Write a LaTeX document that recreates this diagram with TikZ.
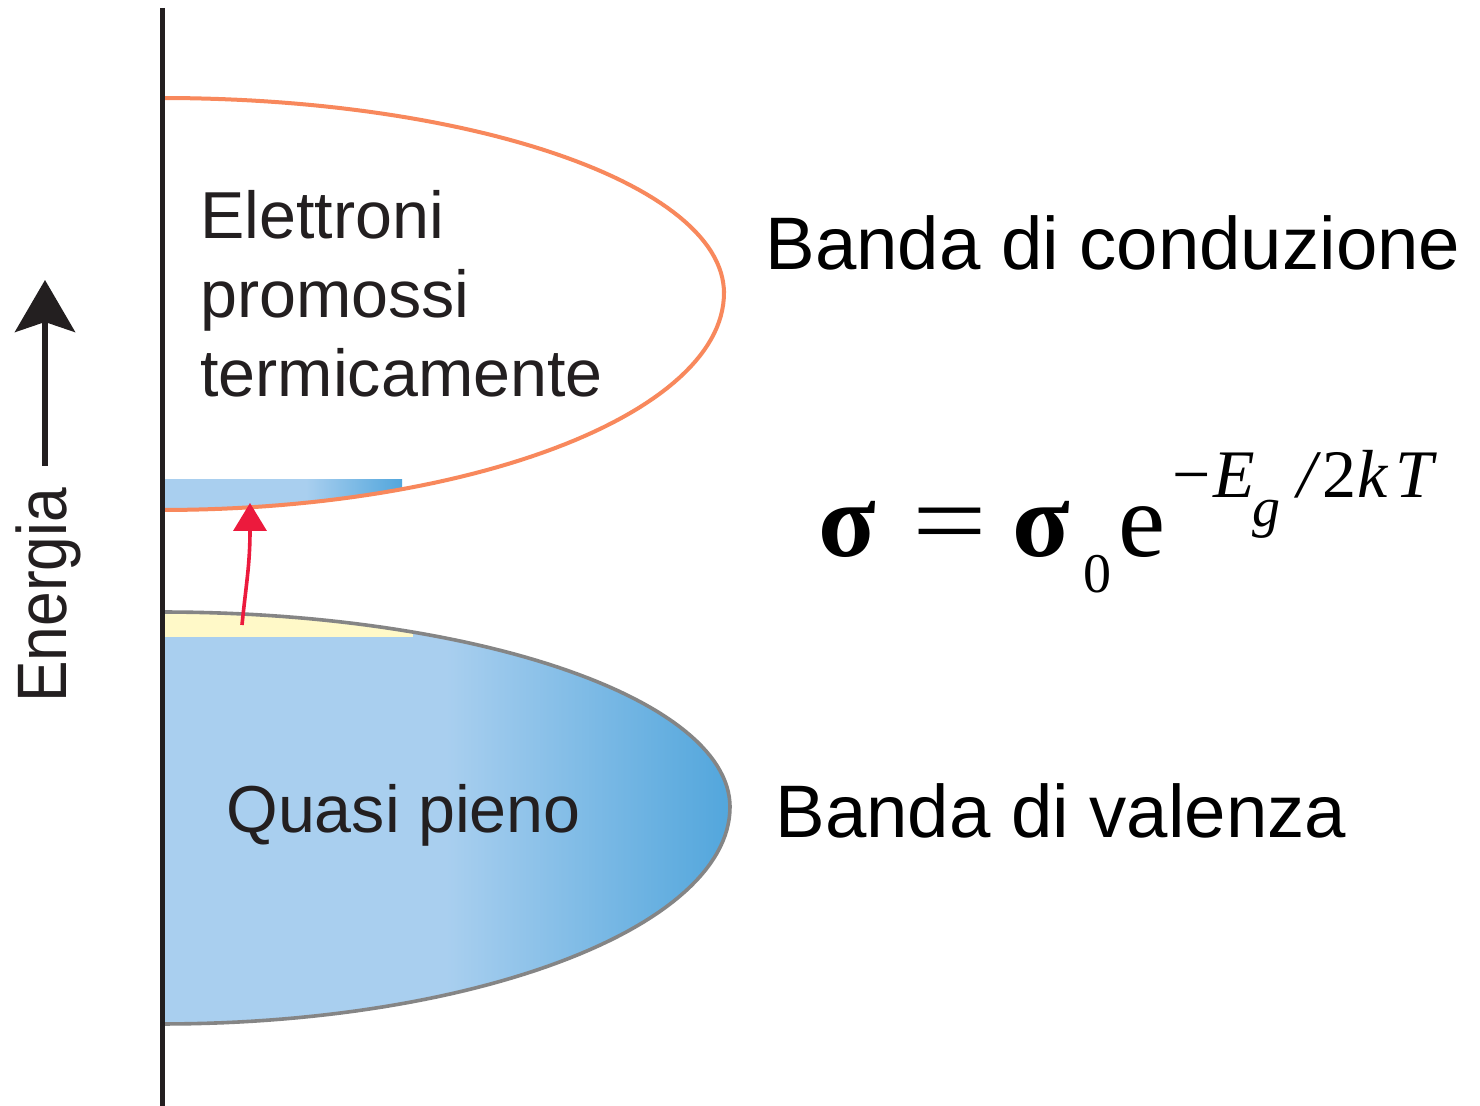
\documentclass[tikz,border=0pt]{standalone}
\usepackage{fontspec}
\setmainfont{Liberation Sans}
\newfontfamily\tms{Liberation Serif}
\usetikzlibrary{arrows.meta}
\definecolor{lb}{HTML}{A9CFEF}
\definecolor{db}{HTML}{52A6DC}
\definecolor{yel}{HTML}{FFF9C8}
\definecolor{orng}{HTML}{F8885C}
\definecolor{gry}{HTML}{858585}
\definecolor{redc}{HTML}{EC1A3D}
\definecolor{axc}{HTML}{231F20}
\pgfdeclarehorizontalshading{valshade}{100bp}{color(0bp)=(lb); color(25bp)=(lb); color(50bp)=(lb); color(75bp)=(db); color(100bp)=(db)}
\pgfdeclarehorizontalshading{stripshade}{100bp}{color(0bp)=(lb); color(25bp)=(lb); color(55bp)=(lb); color(75bp)=(db); color(100bp)=(db)}
\newcommand{\bandcurve}[4]{plot[domain=-90:0,samples=60] ({162+#2*cos(\x)},{#1+#3*sin(\x)}) -- plot[domain=0:90,samples=60] ({162+#2*cos(\x)},{#1+#4*sin(\x)})}
\begin{document}
\begin{tikzpicture}[x=0.5pt,y=-0.5pt,
  lbl/.style={inner sep=0pt, anchor=base west},
  intext/.style={lbl, text=axc, font=\fontsize{33.2pt}{39pt}\selectfont},
  bandlbl/.style={lbl, text=black, font=\fontsize{37.2pt}{44pt}\selectfont},
  frm/.style={lbl, text=black, font=\tms\fontsize{53pt}{60pt}\selectfont},
  frmsup/.style={lbl, text=black, font=\tms\fontsize{34pt}{40pt}\selectfont},
  frmsub/.style={lbl, text=black, font=\tms\fontsize{28pt}{34pt}\selectfont}]
\useasboundingbox (0,0) rectangle (1480,1106);
\fill[white] (0,0) rectangle (1480,1106);
% valence band
\shade[shading=valshade] \bandcurve{807}{568}{195}{217} -- cycle;
\begin{scope}
  \clip \bandcurve{807}{568}{195}{217} -- cycle;
  \fill[yel] (150,600) rectangle (413,637);
\end{scope}
\draw[gry, line width=1.8pt] \bandcurve{807}{568}{195}{217};
% conduction band
\begin{scope}
  \clip \bandcurve{293}{562}{195}{217} -- cycle;
  \shade[shading=stripshade] (162,480) rectangle (402,515);
\end{scope}
\draw[orng, line width=2pt] \bandcurve{293}{562}{195}{217};
% axis
\coordinate (ax1) at (162,8);
\coordinate (ax2) at (162,1106);
\draw[axc, line width=2.5pt] (ax1) -- (ax2);
% thermal excitation arrow
\coordinate (rs) at (242,625);
\coordinate (re) at (250,503);
\draw[redc, line width=1.8pt, -{Triangle[width=16.5pt,length=14pt]}] (rs) .. controls (246,585) and (250,565) .. (re);
% energy arrow
\coordinate (ea) at (45,466);
\coordinate (eb) at (45,280);
\draw[axc, line width=3pt, -{Stealth[width=30pt,length=26pt,inset=5pt]}] (ea) -- (eb);
\node[lbl, rotate=90, text=axc, font=\fontsize{35pt}{40pt}\selectfont] (en) at (67,703) {\scalebox{0.89}[1]{Energia}};
% texts inside
\node[intext] (t1) at (200,239) {Elettroni};
\node[intext] (t2) at (200,318) {promossi};
\node[intext] (t3) at (200,397) {termicamente};
\node[intext] (t4) at (226,833) {Quasi pieno};
\node[bandlbl] (b1) at (765,270) {Banda di conduzione};
\node[bandlbl] (b2) at (775,838) {Banda di valenza};
% formula
\node[frm] (f1) at (818,557) {\bfseries σ};
\node[frm] (f2) at (912,557) {\scalebox{1.25}[1]{=}};
\node[frm] (f3) at (1012,557) {\bfseries σ};
\node[frmsub] (f4) at (1083,593) {0};
\node[frm] (f5) at (1118,557) {e};
\node[frmsup] (f6) at (1172,498) {−};
\node[frmsup] (f7) at (1213,498) {\itshape E};
\node[frmsub] (f8) at (1252,527) {\itshape g};
\node[frmsup] (f9) at (1297,498) {\itshape /};
\node[frmsup] (f10) at (1322,498) {2};
\node[frmsup] (f11) at (1357,498) {\itshape k};
\node[frmsup] (f12) at (1395,498) {\itshape T};
\end{tikzpicture}
\end{document}
